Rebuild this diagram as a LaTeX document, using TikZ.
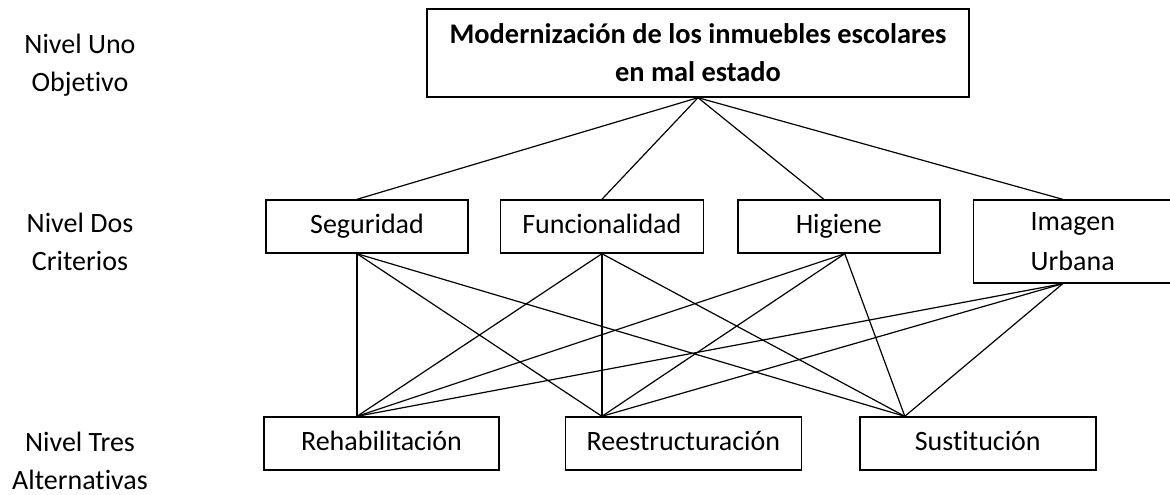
\documentclass[tikz,border=0pt]{standalone}
\usepackage{fontspec}
\setmainfont{Carlito}[Ligatures=NoCommon]
\usetikzlibrary{positioning}
\tikzstyle{jerarquia}=[
    x=0.5pt, y=-0.5pt,
    every node/.style={font=\fontsize{14}{19}\selectfont, align=center},
    caja/.style={draw, line width=0.7pt, minimum height=26.5pt, inner sep=2pt},
    una linea/.style={text height=10pt, text depth=3.5pt},
    enlace/.style={line width=0.6pt},
]

\begin{document}
\begin{tikzpicture}[jerarquia]
        \useasboundingbox (0,0) rectangle (1170,494);
        % niveles
        \node (nivelUno) at (80,65) {Nivel Uno\\Objetivo};
        \node (nivelDos) at (80,242) {Nivel Dos\\Criterios};
        \node (nivelTres) at (80,461) {Nivel Tres\\Alternativas};

        \node[caja, minimum width=271pt, minimum height=44pt, font=\fontsize{14.2}{19}\selectfont\bfseries] (obj) at (698,53) {Modernización de los inmuebles escolares\\en mal estado};

        \node[caja, una linea, minimum width=101pt] (seg) at (367,226.5) {Seguridad};
        \node[caja, una linea, minimum width=101.5pt, right=15.5pt of seg] (fun) {Funcionalidad};
        \node[caja, una linea, minimum width=101pt, right=16.5pt of fun] (hig) {Higiene};
        \node[caja, minimum width=99.5pt, minimum height=41.5pt, font=\fontsize{14}{20}\selectfont, below right=0pt and 16pt of hig.north east] (img) {Imagen\\Urbana};

        \node[caja, una linea, minimum width=117.5pt] (reh) at (381.5,443.5) {Rehabilitación};
        \node[caja, una linea, minimum width=118pt, right=32.5pt of reh] (ree) {Reestructuración};
        \node[caja, una linea, minimum width=118pt, right=28.5pt of ree] (sus) {Sustitución};

        % puntos de enlace
        \coordinate (segN) at ([xshift=-5pt]seg.north);
        \coordinate (segS) at ([xshift=-5pt]seg.south);
        \coordinate (funN) at (fun.north);
        \coordinate (funS) at (fun.south);
        \coordinate (higN) at ([xshift=-7.5pt]hig.north);
        \coordinate (higS) at ([xshift=3pt]hig.south);
        \coordinate (imgN) at ([xshift=-5pt]img.north);
        \coordinate (imgS) at ([xshift=-5pt]img.south);
        \coordinate (rehN) at (reh.north -| segS);
        \coordinate (reeN) at (ree.north -| funS);
        \coordinate (susN) at ([xshift=-36.5pt]sus.north);

        \path[enlace]
            (obj.south) edge (segN)
            (obj.south) edge (funN)
            (obj.south) edge (higN)
            (obj.south) edge (imgN)
            (segS) edge (rehN)
            (segS) edge (reeN)
            (segS) edge (susN)
            (funS) edge (rehN)
            (funS) edge (reeN)
            (funS) edge (susN)
            (higS) edge (rehN)
            (higS) edge (reeN)
            (higS) edge (susN)
            (imgS) edge (rehN)
            (imgS) edge (reeN)
            (imgS) edge (susN)
        ;
    \end{tikzpicture}
\end{document}
